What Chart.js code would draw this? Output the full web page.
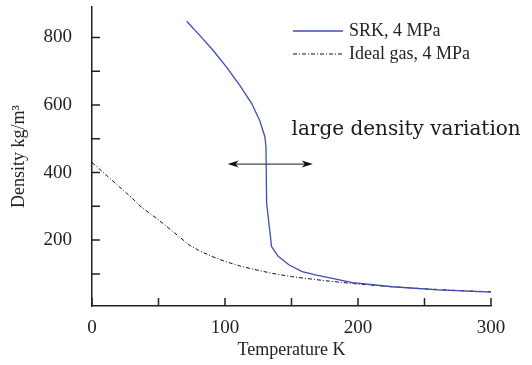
<!DOCTYPE html>
<html lang="en">
<head>
  <meta charset="UTF-8" />
  <title>Density vs temperature</title>
  <script src="https://cdn.jsdelivr.net/npm/chart.js"></script>
  <style>
    body { margin: 0; background: #fff; }
    #wrap { width: 532px; height: 365px; }
  </style>
</head>
<body>
  <div id="wrap"><canvas id="grafico" width="532" height="365"></canvas></div>

  <script>
    // SRK, 4 MPa
    const srkT   = [71.2, 81, 91, 101, 111, 120, 126, 130, 130.8, 131.3, 135, 140, 148, 158, 168, 196, 226, 260, 300];
    const srkRho = [848, 806, 762, 713, 659, 605, 555, 506, 476, 310, 181, 152, 127, 107, 97, 74, 62, 53, 46];
    // Ideal gas, 4 MPa
    const idealT   = [0, 10, 20, 30, 37, 50, 60, 73, 80, 90, 100, 110, 120, 135, 150, 175, 200, 225, 250, 275, 300];
    const idealRho = [430, 395, 360, 325, 298, 260, 228, 186, 170, 152, 137, 125, 115, 102, 92, 80, 70, 62, 56, 51, 47];

    const xTicks = [0, 50, 100, 150, 200, 250, 300];
    const xLabeled = [0, 100, 200, 300];
    const yTicks = [100, 200, 300, 400, 500, 600, 700, 800];
    const yLabeled = [200, 400, 600, 800];

    const seriesNames = ["SRK, 4 MPa", "Ideal gas, 4 MPa"];
    const arrowT = [102, 166];
    const arrowRho = 425;
    const noteText = "large density variation";
    const notePos = [150, 526];

    const pts = (xs, ys) => xs.map((x, i) => ({ x: x, y: ys[i] }));

    const serif = "'Liberation Serif', 'Times New Roman', serif";

    const extras = {
      id: "extras",
      afterDraw(chart) {
        const ctx = chart.ctx;
        const xs = chart.scales.x, ys = chart.scales.y;
        ctx.save();
        // inward ticks
        ctx.strokeStyle = "#222";
        ctx.lineWidth = 1.5;
        ctx.beginPath();
        xTicks.forEach(v => {
          const px = xs.getPixelForValue(v);
          ctx.moveTo(px, ys.bottom); ctx.lineTo(px, ys.bottom - 8);
        });
        yTicks.forEach(v => {
          const py = ys.getPixelForValue(v);
          ctx.moveTo(xs.left, py); ctx.lineTo(xs.left + 8, py);
        });
        ctx.stroke();

        // double arrow
        const ay = ys.getPixelForValue(arrowRho);
        const a0 = xs.getPixelForValue(arrowT[0]);
        const a1 = xs.getPixelForValue(arrowT[1]);
        ctx.strokeStyle = "#444";
        ctx.lineWidth = 1.2;
        ctx.beginPath();
        ctx.moveTo(a0 + 4, ay); ctx.lineTo(a1 - 4, ay);
        ctx.stroke();
        ctx.fillStyle = "#111";
        [[a0, 1], [a1, -1]].forEach(([px, d]) => {
          ctx.beginPath();
          ctx.moveTo(px, ay);
          ctx.lineTo(px + d * 11, ay - 3.5);
          ctx.lineTo(px + d * 8, ay);
          ctx.lineTo(px + d * 11, ay + 3.5);
          ctx.closePath();
          ctx.fill();
        });

        // annotation text
        ctx.font = "20px 'DejaVu Serif', serif";
        ctx.textBaseline = "middle";
        ctx.textAlign = "left";
        ctx.fillStyle = "#1a1a1a";
        ctx.fillText(noteText, xs.getPixelForValue(notePos[0]), ys.getPixelForValue(notePos[1]));

        // legend
        ctx.font = "18px " + serif;
        ctx.fillStyle = "#222";
        chart.data.datasets.forEach((ds, i) => {
          const ly = 31 + i * 23;
          ctx.strokeStyle = ds.borderColor;
          ctx.lineWidth = ds.borderWidth;
          ctx.setLineDash(ds.borderDash || []);
          ctx.beginPath();
          ctx.moveTo(293, ly); ctx.lineTo(343, ly);
          ctx.stroke();
          ctx.setLineDash([]);
          ctx.fillText(seriesNames[i], 349, ly);
        });
        ctx.restore();
      }
    };

    new Chart(document.getElementById("grafico"), {
      type: "scatter",
      data: {
        datasets: [
          { label: seriesNames[0], data: pts(srkT, srkRho), showLine: true, borderColor: "#3f4db3", borderWidth: 1.3, pointRadius: 0, tension: 0 },
          { label: seriesNames[1], data: pts(idealT, idealRho), showLine: true, borderColor: "#111", borderWidth: 1, borderDash: [4, 2, 1, 2], pointRadius: 0, tension: 0 }
        ]
      },
      options: {
        responsive: false,
        animation: false,
        layout: { padding: { top: 7, right: 41, left: 0, bottom: 0 } },
        plugins: { legend: { display: false }, tooltip: { enabled: false } },
        scales: {
          x: {
            type: "linear", min: 0, max: 300,
            afterBuildTicks: s => { s.ticks = xTicks.map(v => ({ value: v })); },
            afterFit: s => { s.height = 59; s.paddingRight = 0; s.paddingLeft = 0; },
            grid: { display: false },
            border: { display: true, color: "#222", width: 1.5 },
            ticks: { color: "#222", padding: 3, maxRotation: 0, autoSkip: false,
              font: { family: serif, size: 19 },
              callback: v => xLabeled.includes(v) ? String(v) : "" },
            title: { display: true, text: "Temperature K", color: "#222", font: { family: serif, size: 18 }, padding: { top: 5 } }
          },
          y: {
            type: "linear", min: 5, max: 890,
            afterBuildTicks: s => { s.ticks = yTicks.map(v => ({ value: v })); },
            afterFit: s => { s.width = 92; s.paddingTop = 0; s.paddingBottom = 0; },
            grid: { display: false },
            border: { display: true, color: "#222", width: 1.5 },
            ticks: { color: "#222", padding: 12, autoSkip: false,
              font: { family: serif, size: 19 },
              callback: v => yLabeled.includes(v) ? String(v) : "" },
            title: { display: true, text: "Density kg/m³", color: "#222", font: { family: serif, size: 18 }, padding: { top: 8, bottom: 0 } }
          }
        }
      },
      plugins: [extras]
    });
  </script>
</body>
</html>
